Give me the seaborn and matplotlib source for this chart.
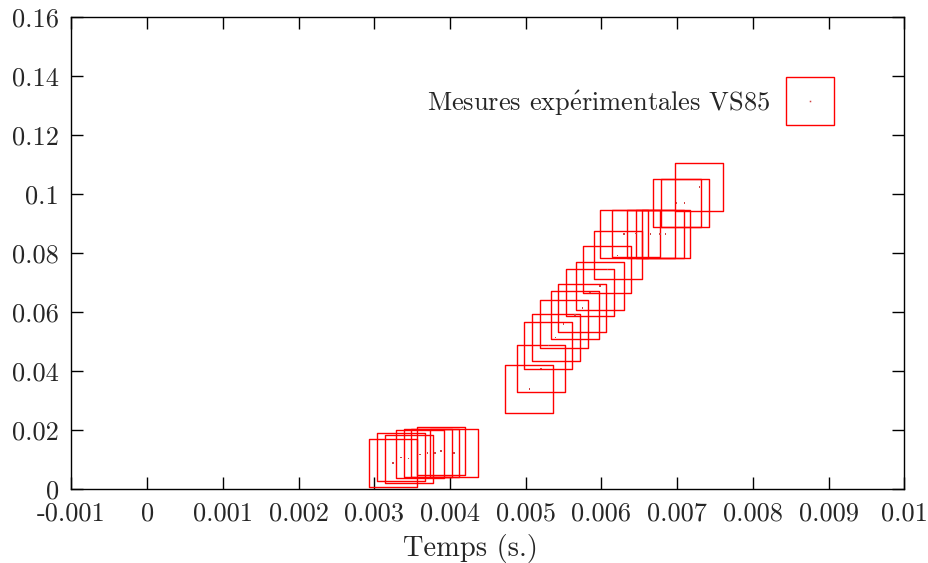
import numpy as np
import pandas as pd
import matplotlib
matplotlib.use("Agg")
import matplotlib.pyplot as plt
from matplotlib.lines import Line2D
import seaborn as sns

# Measured points (time in s, value)
temps = [0.003247, 0.003353, 0.003454, 0.003604, 0.003705, 0.003802, 0.003881, 0.004053,
         0.005048, 0.005202, 0.005299, 0.005396, 0.005502, 0.005651, 0.005748, 0.005849, 0.005981,
         0.006078, 0.006215, 0.006299, 0.006457, 0.006651, 0.006774, 0.006849,
         0.006995, 0.007100, 0.007293]
mesures = [0.00885, 0.01075, 0.01031, 0.01177, 0.01221, 0.01221, 0.01289, 0.01221,
           0.0339, 0.04084, 0.04864, 0.05136, 0.05587, 0.05892, 0.0614, 0.06662, 0.06886,
           0.07442, 0.07917, 0.0865, 0.0866, 0.0865, 0.0865, 0.0865,
           0.0969, 0.0969, 0.1023]

xticks = [-0.001, 0, 0.001, 0.002, 0.003, 0.004, 0.005, 0.006, 0.007, 0.008, 0.009, 0.01]
xlabels = ["-0.001", "0", "0.001", "0.002", "0.003", "0.004", "0.005", "0.006",
           "0.007", "0.008", "0.009", "0.01"]
yticks = [0, 0.02, 0.04, 0.06, 0.08, 0.1, 0.12, 0.14, 0.16]
ylabels = ["0", "0.02", "0.04", "0.06", "0.08", "0.1", "0.12", "0.14", "0.16"]

df = pd.DataFrame({"t": temps, "v": mesures})

sns.set_theme(style="ticks")
plt.rcParams["font.family"] = ["cmr10", "DejaVu Serif"]
plt.rcParams["mathtext.fontset"] = "cm"
plt.rcParams["axes.unicode_minus"] = False
plt.rcParams["axes.formatter.use_mathtext"] = True

fig = plt.figure(figsize=(9.29, 5.63), dpi=100)
ax = fig.add_axes([71.5 / 929, 1 - 489 / 563, 832.7 / 929, 472 / 563])

msize = 34.5  # square side in points
sns.scatterplot(data=df, x="t", y="v", marker="s", s=msize ** 2, facecolor="none",
                edgecolor="red", linewidth=1.0, ax=ax, legend=False)
sns.scatterplot(data=df, x="t", y="v", marker="s", s=1.2, color="#d04040",
                edgecolor="none", ax=ax, legend=False)

ax.set_xlim(-0.001, 0.01)
ax.set_ylim(0, 0.16)
ax.set_xticks(xticks)
ax.set_xticklabels(xlabels)
ax.set_yticks(yticks)
ax.set_yticklabels(ylabels)
ax.tick_params(direction="in", length=8.6, width=1, labelsize=19, color="black",
               top=True, right=True, pad=9)
for s in ax.spines.values():
    s.set_linewidth(1)
    s.set_color("black")
ax.set_ylabel("")
ax.set_xlabel("Temps (s.)", fontsize=20.5)
ax.xaxis.set_label_coords((470 - 71.5) / 832.7, -0.096)

h_sq = Line2D([], [], marker="s", ms=msize, mfc="none", mec="red", mew=1.0, ls="none")
h_dot = Line2D([], [], marker="s", ms=1.1, mfc="#d04040", mec="none", ls="none")
leg = ax.legend([(h_sq, h_dot)], [r"Mesures exp$\acute{\mathrm{e}}$rimentales VS85"],
                frameon=False, markerfirst=False, loc="center right", fontsize=19,
                bbox_to_anchor=((830 - 71.5) / 832.7, (489 - 103) / 472),
                borderaxespad=0, borderpad=0, handlelength=1.5, handletextpad=0.78)

fig.savefig("out.png", dpi=100)
